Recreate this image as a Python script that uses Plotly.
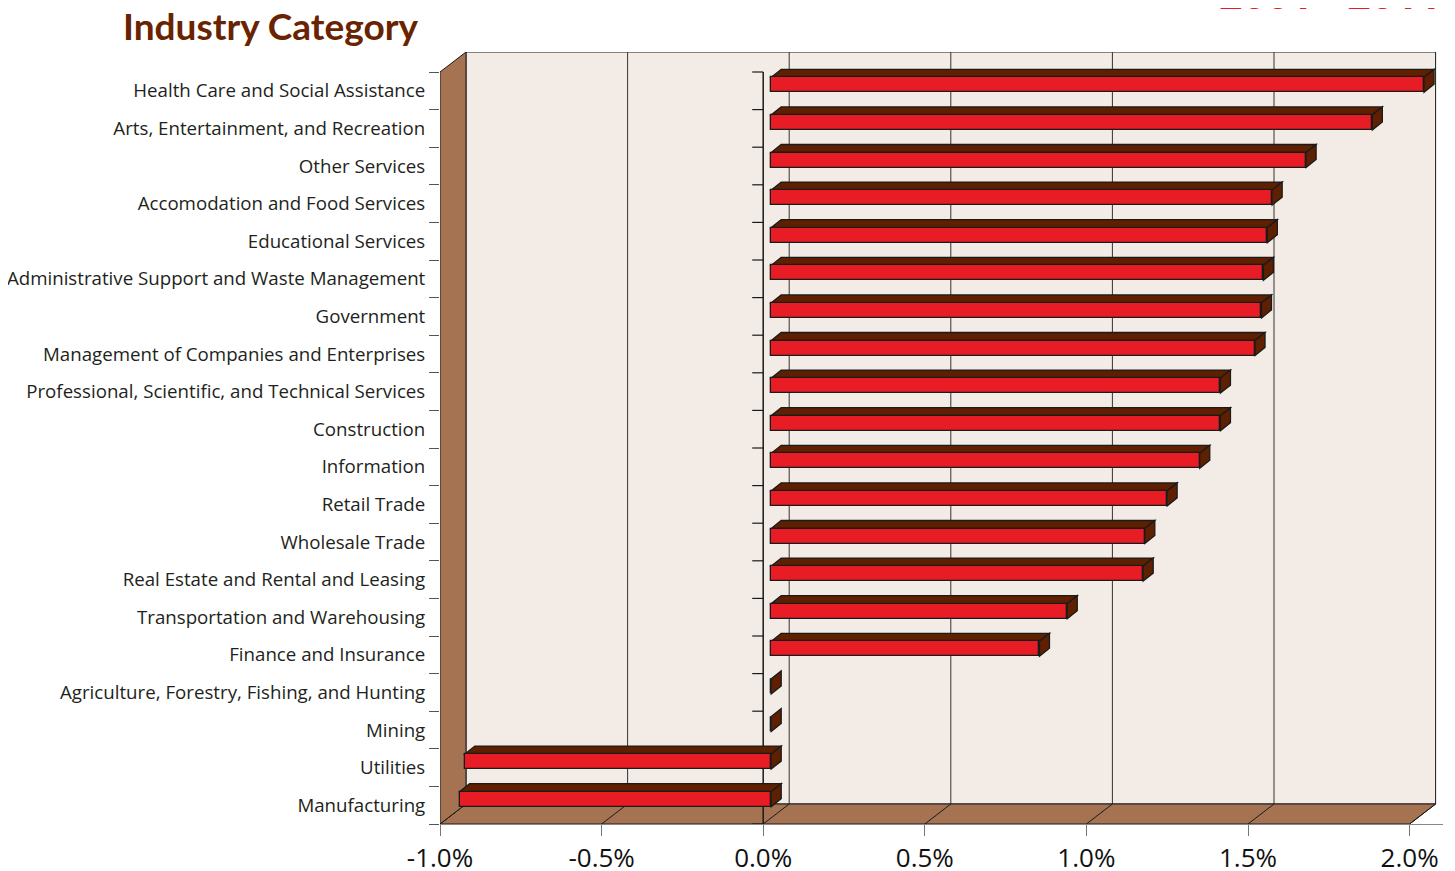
import plotly.graph_objects as go

# ---------------- data ----------------
categories = [
    "Health Care and Social Assistance",
    "Arts, Entertainment, and Recreation",
    "Other Services",
    "Accomodation and Food Services",
    "Educational Services",
    "Administrative Support and Waste Management",
    "Government",
    "Management of Companies and Enterprises",
    "Professional, Scientific, and Technical Services",
    "Construction",
    "Information",
    "Retail Trade",
    "Wholesale Trade",
    "Real Estate and Rental and Leasing",
    "Transportation and Warehousing",
    "Finance and Insurance",
    "Agriculture, Forestry, Fishing, and Hunting",
    "Mining",
    "Utilities",
    "Manufacturing",
]
growth = [2.02, 1.86, 1.655, 1.55, 1.535, 1.523, 1.517, 1.497, 1.39, 1.39,
          1.326, 1.225, 1.156, 1.151, 0.916, 0.83, 0.0, 0.0, -0.948, -0.964]
x_ticks = [-1.0, -0.5, 0.0, 0.5, 1.0, 1.5, 2.0]
x_tick_labels = ["-1.0%", "-0.5%", "0.0%", "0.5%", "1.0%", "1.5%", "2.0%"]
title_text = "Industry Category"
period_text = "2001 - 2011"

# ---------------- styling / geometry ----------------
PAGE_OFF = 8                               # browser body margin
W, H = 1455 - PAGE_OFF, 871 - PAGE_OFF
ML, MR, MT, MB = 440 - PAGE_OFF, 12, 52 - PAGE_OFF, 47
PX_PER_X = 323.2
N = len(categories)
PLOT_H = H - MT - MB
CAT_PX = (PLOT_H - 20) / N                # px per category at the front plane
XMIN, XMAX = x_ticks[0], x_ticks[-1]
DX = 26 / PX_PER_X                        # depth offset of the back wall
DY = 20 / CAT_PX
x_range = [XMIN, XMIN + (W - ML - MR) / PX_PER_X]
y_range = [-0.5, N - 0.5 + DY]

BAR_XOFF = 8 / PX_PER_X                   # bar front-plane offset
BAR_YOFF = 6 / CAT_PX
BAR_DDX = 10 / PX_PER_X                   # bar depth
BAR_DDY = 8 / CAT_PX
BAR_W = 15 / CAT_PX

RED = "#e81c24"
DARK = "#5e2000"
WALL = "#a57352"
BACK = "#f3ece6"
OUT = "#1a1a1a"

pos = [N - 1 - k for k in range(N)]      # top category gets highest y

shapes = []
# back wall
shapes.append(dict(type="rect", xref="x", yref="y", layer="below",
                   x0=XMIN + DX, x1=XMAX + DX, y0=-0.5 + DY, y1=N - 0.5 + DY,
                   fillcolor=BACK, line=dict(color=OUT, width=1)))
for t in x_ticks[1:-1]:
    shapes.append(dict(type="line", xref="x", yref="y", layer="below",
                       x0=t + DX, x1=t + DX, y0=-0.5 + DY, y1=N - 0.5 + DY,
                       line=dict(color="#333333", width=1)))
# floor
shapes.append(dict(type="path", xref="x", yref="y", layer="below",
                   path=f"M {XMIN},{-0.5} L {XMAX},{-0.5} L {XMAX + DX},{-0.5 + DY} L {XMIN + DX},{-0.5 + DY} Z",
                   fillcolor=WALL, line=dict(color=OUT, width=1)))
for t in x_ticks:
    shapes.append(dict(type="line", xref="x", yref="y", layer="below",
                       x0=t, x1=t + DX, y0=-0.5, y1=-0.5 + DY,
                       line=dict(color=OUT, width=1)))
# side wall
shapes.append(dict(type="path", xref="x", yref="y", layer="below",
                   path=f"M {XMIN},{-0.5} L {XMIN},{N - 0.5} L {XMIN + DX},{N - 0.5 + DY} L {XMIN + DX},{-0.5 + DY} Z",
                   fillcolor=WALL, line=dict(color=OUT, width=1)))
# zero category axis on the front plane
shapes.append(dict(type="line", xref="x", yref="y", layer="below",
                   x0=0, x1=0, y0=-0.5, y1=N - 0.5,
                   line=dict(color=OUT, width=1.5)))
for b in range(N + 1):
    shapes.append(dict(type="line", xref="x", yref="y", layer="below",
                       x0=-11 / PX_PER_X, x1=0, y0=b - 0.5, y1=b - 0.5,
                       line=dict(color=OUT, width=1.2)))

# 3D faces of the bars (computed from the data)
for p, v in zip(pos, growth):
    xl = BAR_XOFF + min(v, 0)
    xr = BAR_XOFF + max(v, 0)
    yb = p + BAR_YOFF - BAR_W / 2
    yt = p + BAR_YOFF + BAR_W / 2
    if v != 0:
        shapes.append(dict(type="path", xref="x", yref="y", layer="below",
                           path=f"M {xl},{yt} L {xr},{yt} L {xr + BAR_DDX},{yt + BAR_DDY} L {xl + BAR_DDX},{yt + BAR_DDY} Z",
                           fillcolor=DARK, line=dict(color=OUT, width=1.3)))
    shapes.append(dict(type="path", xref="x", yref="y", layer="below",
                       path=f"M {xr},{yb} L {xr + BAR_DDX},{yb + BAR_DDY} L {xr + BAR_DDX},{yt + BAR_DDY} L {xr},{yt} Z",
                       fillcolor=DARK, line=dict(color=OUT, width=1.3)))

fig = go.Figure()
fig.add_trace(go.Bar(
    orientation="h",
    y=[p + BAR_YOFF for p in pos],
    x=growth,
    base=BAR_XOFF,
    width=BAR_W,
    marker=dict(color=RED, line=dict(color=OUT, width=1.3)),
    hovertext=categories,
    hoverinfo="text+x",
    showlegend=False,
))

fig.update_layout(
    width=W, height=H,
    margin=dict(l=ML, r=MR, t=MT, b=MB, pad=0, autoexpand=False),
    paper_bgcolor="white",
    plot_bgcolor="white",
    shapes=shapes,
    bargap=0,
    font=dict(family="Open Sans", color="#231f20"),
    xaxis=dict(
        range=x_range, showgrid=False, zeroline=False, automargin=False,
        tickmode="array", tickvals=x_ticks, ticktext=x_tick_labels,
        ticks="outside", ticklen=11, tickcolor="#777777", tickwidth=1.2,
        showline=True, linecolor="#888888", linewidth=1,
        tickfont=dict(family="Open Sans", size=26, color="#111111"),
        fixedrange=True,
    ),
    yaxis=dict(
        range=y_range, showgrid=False, zeroline=False, showline=False,
        automargin=False,
        tickmode="array", tickvals=pos, ticktext=categories,
        ticks="outside", ticklen=10, tickcolor="rgba(0,0,0,0)",
        tickfont=dict(family="Open Sans", size=18.7, color="#231f20"),
        minor=dict(tickmode="array", tickvals=[b - 0.5 for b in range(N + 1)],
                   ticks="outside", ticklen=10, tickcolor="#555555", tickwidth=1.2),
        fixedrange=True,
    ),
    annotations=[
        dict(text=f"<b>{title_text}</b>", xref="paper", yref="paper",
             x=-0.318, y=1.002, xanchor="left", yanchor="bottom", showarrow=False,
             font=dict(family="Lato", size=37, color="#692300")),
        dict(text=f"<b>{period_text}</b>", xref="paper", yref="paper",
             x=0.7747, y=1.038, xanchor="left", yanchor="bottom", showarrow=False,
             font=dict(family="Open Sans", size=41, color=RED)),
    ],
)

fig.write_html("out.html")
